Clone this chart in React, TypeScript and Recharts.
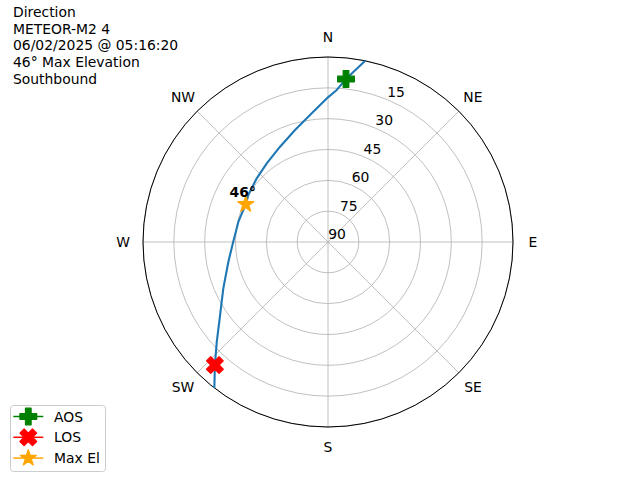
import {
  Legend,
  PolarAngleAxis,
  PolarGrid,
  PolarRadiusAxis,
  Radar,
  RadarChart,
  Scatter,
  ScatterChart,
  XAxis,
  YAxis,
} from 'recharts';

const FONT = '"DejaVu Sans", Verdana, sans-serif';
const FS = 13.9;

const titleLines = [
  'Direction',
  'METEOR-M2 4',
  '06/02/2025 @ 05:16:20',
  '46° Max Elevation',
  'Southbound',
];

// compass labels, clockwise from north
const directions = ['N', 'NE', 'E', 'SE', 'S', 'SW', 'W', 'NW'];
// elevation rings (90 = zenith at the centre)
const elevationTicks = [90, 75, 60, 45, 30, 15, 0];

// pass track: azimuth (deg) / elevation (deg)
const trackAz = [11.6, 6.3, 3.3, 0.1, 352.8, 343.6, 333.3, 322.1, 311.8, 300.5, 294.6, 282.8, 270.2, 258.8, 246.1, 235.9, 228.1, 222.6, 217.9];
const trackEl = [0, 10.2, 15.9, 19.5, 26.9, 33.2, 38.1, 41.5, 43.5, 45.0, 46.0, 45.3, 43.9, 40.6, 34.3, 26.6, 17.3, 8.7, 0];

const aosAz = [6.3];
const aosEl = [10.2];
const losAz = [222.6];
const losEl = [8.7];
const maxAz = [294.6];
const maxEl = [46];

const toXY = (az: number, el: number) => {
  const r = 90 - el;
  const a = (az * Math.PI) / 180;
  return { x: r * Math.sin(a), y: r * Math.cos(a), el };
};

const track = trackAz.map((az, i) => toXY(az, trackEl[i]));
const aosPts = aosAz.map((az, i) => toXY(az, aosEl[i]));
const losPts = losAz.map((az, i) => toXY(az, losEl[i]));
const maxPts = maxAz.map((az, i) => toXY(az, maxEl[i]));

const compassData = directions.map((dir) => ({ dir, base: 0 }));

const MS = 16.7; // marker size px
const EDGE = 1.3;

function plusPath(cx: number, cy: number) {
  const h = MS / 2;
  const a = h / 3;
  const p = [
    [-a, -h], [a, -h], [a, -a], [h, -a], [h, a], [a, a],
    [a, h], [-a, h], [-a, a], [-h, a], [-h, -a], [-a, -a],
  ];
  return 'M' + p.map(([x, y]) => `${cx + x},${cy + y}`).join('L') + 'Z';
}

function xPath(cx: number, cy: number) {
  const u = MS / 4;
  const p = [
    [-1, -2], [0, -1], [1, -2], [2, -1], [1, 0], [2, 1],
    [1, 2], [0, 1], [-1, 2], [-2, 1], [-1, 0], [-2, -1],
  ];
  return 'M' + p.map(([x, y]) => `${cx + x * u},${cy + y * u}`).join('L') + 'Z';
}

function starPath(cx: number, cy: number) {
  const R = MS / 2;
  const r = R * 0.381966;
  const pts: string[] = [];
  for (let k = 0; k < 10; k++) {
    const ang = ((-90 + k * 36) * Math.PI) / 180;
    const rr = k % 2 === 0 ? R : r;
    pts.push(`${cx + rr * Math.cos(ang)},${cy + rr * Math.sin(ang)}`);
  }
  return 'M' + pts.join('L') + 'Z';
}

const MARKERS: Record<string, { color: string; path: (cx: number, cy: number) => string }> = {
  AOS: { color: '#008000', path: plusPath },
  LOS: { color: '#ff0000', path: xPath },
  'Max El': { color: '#ffa500', path: starPath },
};

const marker = (name: string) => (props: any) => {
  const m = MARKERS[name];
  return (
    <path
      d={m.path(props.cx, props.cy)}
      fill={m.color}
      stroke={m.color}
      strokeWidth={EDGE}
      strokeLinejoin="round"
    />
  );
};

const MaxElShape = (props: any) => (
  <g>
    {marker('Max El')(props)}
    <text
      x={props.cx - 3}
      y={props.cy - 12}
      textAnchor="middle"
      dominantBaseline="central"
      fontFamily={FONT}
      fontSize={FS}
      fontWeight="bold"
      fill="#000"
    >
      {`${props.payload.el}°`}
    </text>
  </g>
);

const noShape = () => <g />;

const AngleTick = (props: any) => (
  <text
    x={props.x}
    y={props.y}
    textAnchor="middle"
    dominantBaseline="central"
    fontFamily={FONT}
    fontSize={FS}
    fill="#000"
  >
    {props.payload.value}
  </text>
);

const RadiusTick = (props: any) => {
  const label = 90 - props.payload.value;
  if (label === 0) return <g />;
  return (
    <text
      x={props.x + 9}
      y={props.y - 8}
      textAnchor="middle"
      dominantBaseline="central"
      fontFamily={FONT}
      fontSize={FS}
      fill="#000"
    >
      {label}
    </text>
  );
};

const LegendBox = (props: any) => {
  const items = (props.payload ?? []).filter((p: any) => MARKERS[p.value]);
  return (
    <svg width={96} height={67} style={{ display: 'block' }}>
      <rect x={0.5} y={0.5} width={95} height={66} rx={3} fill="#fff" fillOpacity={0.8} stroke="#cccccc" />
      {items.map((p: any, i: number) => {
        const m = MARKERS[p.value];
        const y = 11.5 + i * 20.8;
        return (
          <g key={p.value}>
            <line x1={3.3} x2={33.3} y1={y} y2={y} stroke={m.color} strokeWidth={1.5} />
            <path d={m.path(18.3, y)} fill={m.color} stroke={m.color} strokeWidth={EDGE} strokeLinejoin="round" />
            <text x={44} y={y} dominantBaseline="central" fontFamily={FONT} fontSize={FS} fill="#000">
              {p.value}
            </text>
          </g>
        );
      })}
    </svg>
  );
};

export default function App() {
  const radiusTicks = elevationTicks.map((e) => 90 - e);
  return (
    <div style={{ position: 'absolute', left: 0, top: 0, width: 640, height: 480, background: '#fff' }}>
      <div style={{ position: 'absolute', left: 0, top: 0 }}>
        <RadarChart
          width={640}
          height={480}
          data={compassData}
          cx={328}
          cy={242}
          outerRadius={185}
          margin={{ top: 0, right: 0, bottom: 0, left: 0 }}
        >
          <PolarGrid gridType="circle" stroke="#b0b0b0" strokeWidth={0.8} />
          <PolarAngleAxis
            dataKey="dir"
            axisLineType="circle"
            stroke="#000"
            tickLine={false}
            tickSize={20}
            tick={AngleTick}
          />
          <PolarRadiusAxis
            type="number"
            angle={67.5}
            domain={[0, 90]}
            ticks={radiusTicks as any}
            tickCount={7}
            axisLine={false}
            tickLine={false}
            tick={RadiusTick}
          />
          <Radar dataKey="base" stroke="none" fill="none" dot={false} legendType="none" isAnimationActive={false} />
        </RadarChart>
      </div>
      <div style={{ position: 'absolute', left: 0, top: 0 }}>
        <ScatterChart width={640} height={480} margin={{ top: 57, right: 127, bottom: 53, left: 143 }}>
          <XAxis type="number" dataKey="x" domain={[-90, 90]} hide />
          <YAxis type="number" dataKey="y" domain={[-90, 90]} hide />
          <Scatter
            name="track"
            data={track}
            fill="#1f77b4"
            line={{ stroke: '#1f77b4', strokeWidth: 2.1, strokeLinejoin: 'round' }}
            shape={noShape}
            legendType="none"
            isAnimationActive={false}
          />
          <Scatter name="AOS" data={aosPts} fill="#008000" shape={marker('AOS')} isAnimationActive={false} />
          <Scatter name="LOS" data={losPts} fill="#ff0000" shape={marker('LOS')} isAnimationActive={false} />
          <Scatter name="Max El" data={maxPts} fill="#ffa500" shape={MaxElShape} isAnimationActive={false} />
          <Legend
            layout="horizontal"
            verticalAlign="middle"
            align="center"
            content={LegendBox}
            wrapperStyle={{ left: 10, top: 405, width: 96, height: 67 }}
          />
        </ScatterChart>
      </div>
      <div
        style={{
          position: 'absolute',
          left: 13,
          top: 4,
          fontFamily: FONT,
          fontSize: FS,
          lineHeight: '16.67px',
          color: '#000',
          whiteSpace: 'pre',
        }}
      >
        {titleLines.join('\n')}
      </div>
    </div>
  );
}
